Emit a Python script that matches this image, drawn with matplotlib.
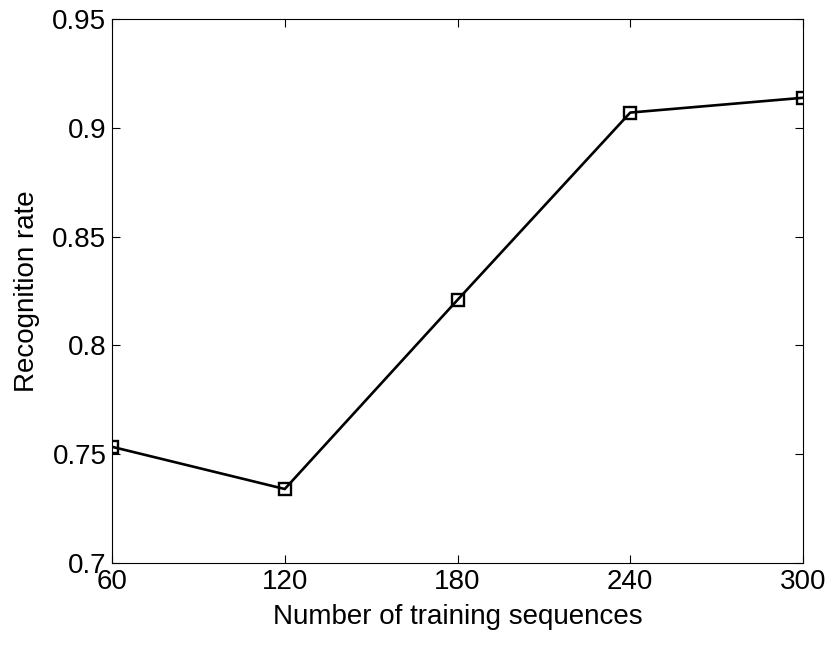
import matplotlib
matplotlib.use('Agg')
import matplotlib.pyplot as plt

plt.rcParams['font.family'] = ['Liberation Sans', 'DejaVu Sans']

num_sequences = [60, 120, 180, 240, 300]
recognition_rate = [0.7534, 0.734, 0.8209, 0.907, 0.9138]
x_ticks = [60, 120, 180, 240, 300]
y_ticks = [0.7, 0.75, 0.8, 0.85, 0.9, 0.95]
y_labels = ['0.7', '0.75', '0.8', '0.85', '0.9', '0.95']

fig = plt.figure(figsize=(8.35, 6.5), dpi=100)
ax = fig.add_axes([112/835, 1 - 563/650, (803-112)/835, (563-19)/650])

ax.plot(num_sequences, recognition_rate, color='black', linewidth=1.9,
        marker='s', markersize=8.5, markerfacecolor='none',
        markeredgecolor='black', markeredgewidth=1.7)

ax.set_xlim(60, 300)
ax.set_ylim(0.7, 0.95)
ax.set_xticks(x_ticks)
ax.set_yticks(y_ticks)
ax.set_yticklabels(y_labels)
ax.tick_params(direction='in', top=True, right=True, labelsize=20, length=6, width=0.8, pad=4)
ax.set_xlabel('Number of training sequences', fontsize=20, labelpad=7)
ax.set_ylabel('Recognition rate', fontsize=20, labelpad=9)
for s in ax.spines.values():
    s.set_linewidth(0.8)

fig.savefig('out.png', dpi=100)
